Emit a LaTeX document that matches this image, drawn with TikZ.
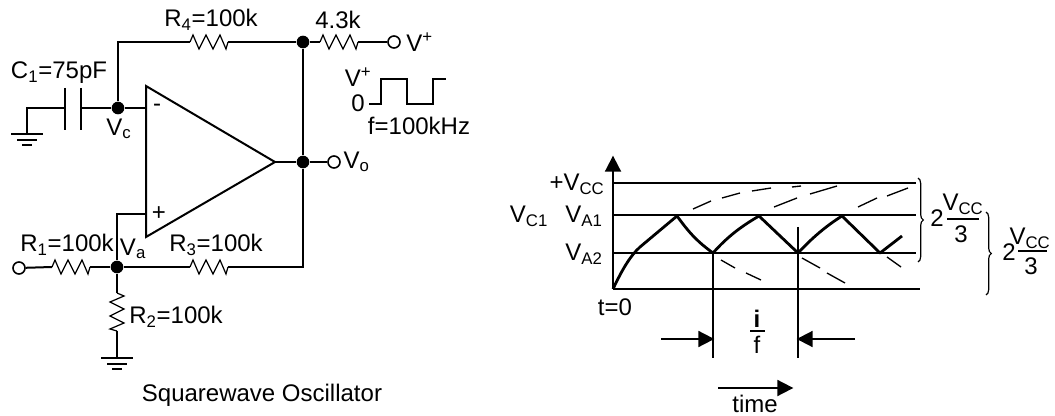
\documentclass[tikz,border=0pt]{standalone}
\usepackage{fontspec}
\setmainfont{Liberation Sans}
\usetikzlibrary{arrows.meta,decorations.pathreplacing,positioning}
\tikzset{%
  wire/.style={line width=1.5pt},
  thinwire/.style={line width=0.9pt},
  trace/.style={line width=2.1pt,line join=round},
  ghost/.style={line width=1pt},
  level/.style={line width=1.4pt},
  arrow/.style={line width=1.4pt,-{Triangle[length=12pt,width=12pt]},shorten >=-1pt},
  junction/.style={circle,fill=black,inner sep=0pt,minimum size=9.5pt},
  terminal/.style={circle,draw=black,line width=1.2pt,fill=white,inner sep=0pt,minimum size=9pt},
  txt/.style={inner sep=0pt,font=\fontsize{18}{20}\selectfont},
  resistor/.pic={
    \draw[thinwire,line join=miter] (0,0) -- (3,-7) -- (9,7) -- (16,-7) -- (23,7) -- (30,-7) -- (36,7) -- (38,0);
  },
  ground/.pic={
    \draw[wire] (-16,0) -- (16,0) (-10,6) -- (10,6) (-5,11) -- (5,11);
  },
}
\begin{document}
\begin{tikzpicture}[x=0.75pt,y=-0.75pt]
  \useasboundingbox (0,0) rectangle (1055,416);

  % oscillator
  \node[junction] (vc) at (118,108) {};
  \node[junction] (va) at (117,267) {};
  \node[junction] (top) at (303,42) {};
  \node[junction] (out) at (303,162) {};
  \node[terminal] (vplus) at (394,42) {};
  \node[terminal] (vout) at (334,162) {};
  \node[terminal] (vin) at (19,268) {};
  \coordinate (tipA) at (146,86);
  \coordinate (tipB) at (275,162);
  \coordinate (tipC) at (146,237);
  \coordinate (minus) at (146,108);
  \coordinate (plus) at (146,214);
  \coordinate (plusup) at (117,214);
  \coordinate (r4a) at (190,42);
  \coordinate (r4b) at (228,42);
  \coordinate (r5a) at (320,42);
  \coordinate (r5b) at (358,42);
  \coordinate (r1a) at (52,267);
  \coordinate (r1b) at (90,267);
  \coordinate (r3a) at (190,267);
  \coordinate (r3b) at (228,267);
  \coordinate (r2a) at (117,293);
  \coordinate (r2b) at (117,331);
  \coordinate (corner) at (303,267);
  \coordinate (rise) at (118,42);
  \coordinate (capa) at (65,108);
  \coordinate (capb) at (81,108);
  \coordinate (gnda) at (27,134);
  \coordinate (gndb) at (117,358);

  \draw[wire] (tipA) -- (tipB) -- (tipC) -- cycle;
  \draw[wire] (vc) -- (rise) -- (r4a);
  \draw[wire] (r4b) -- (top) -- (r5a);
  \draw[wire] (r5b) -- (vplus);
  \draw[wire] (top) -- (out) -- (corner) -- (r3b);
  \draw[wire] (tipB) -- (out) -- (vout);
  \draw[wire] (r3a) -- (va) -- (r1b);
  \draw[wire] (r1a) -- (vin);
  \draw[wire] (plus) -- (plusup) -- (va) -- (r2a);
  \draw[wire] (r2b) -- (gndb);
  \draw[wire] (minus) -- (vc) -- (capb);
  \draw[wire] (capa) -| (gnda);
  \draw[wire] (65,88) -- (65,130) (81,88) -- (81,130);
  \pic at (r4a) {resistor};
  \pic at (r5a) {resistor};
  \pic at (r1a) {resistor};
  \pic at (r3a) {resistor};
  \pic[rotate=-90] at (r2a) {resistor};
  \pic at (gnda) {ground};
  \pic at (gndb) {ground};
  \draw[wire] (369,104) -- (381,104) -- (381,79) -- (407,79) -- (407,104) -- (433,104) -- (433,79) -- (446,79);

  \node[txt] (r4lbl) at (211,20) {R\textsubscript{4}=100k};
  \node[txt] (r5lbl) at (338,20) {4.3k};
  \node[txt,right=4pt of vplus] (vplbl) {V\textsuperscript{+}};
  \node[txt,right=2pt of vout] (volbl) {V\textsubscript{o}};
  \node[txt] (c1lbl) at (59,73) {C\textsubscript{1}=75pF};
  \node[txt] (vclbl) at (119,129) {V\textsubscript{c}};
  \node[txt] (valbl) at (133,249) {V\textsubscript{a}};
  \node[txt] (r1lbl) at (67,245) {R\textsubscript{1}=100k};
  \node[txt] (r3lbl) at (216,245) {R\textsubscript{3}=100k};
  \node[txt] (r2lbl) at (176,317) {R\textsubscript{2}=100k};
  \node[txt] (minuslbl) at (157,108) {-};
  \node[txt] (pluslbl) at (159,214) {+};
  \node[txt] (vwave) at (358,77) {V\textsuperscript{+}};
  \node[txt] (zero) at (358,103) {0};
  \node[txt] (freq) at (419,126) {f=100kHz};
  \node[txt] (title) at (262,395) {Squarewave Oscillator};

  % timing
  \coordinate (origin) at (613,289);
  \coordinate (axistop) at (613,157);
  \coordinate (endbase) at (920,289);
  \coordinate (cc) at (613,183);
  \coordinate (endcc) at (916,183);
  \coordinate (aone) at (613,215);
  \coordinate (endone) at (916,215);
  \coordinate (atwo) at (613,253);
  \coordinate (endtwo) at (916,253);
  \coordinate (lowa) at (713,253);
  \coordinate (lowb) at (798,253);
  \coordinate (downa) at (713,358);
  \coordinate (downb) at (798,358);
  \coordinate (upb) at (798,227);

  \draw[arrow] (origin) -- (axistop);
  \draw[level] (origin) -- (endbase);
  \draw[level] (cc) -- (endcc);
  \draw[thinwire,line width=1.2pt] (aone) -- (endone);
  \draw[thinwire,line width=1.2pt] (atwo) -- (endtwo);
  \draw[level] (lowa) -- (downa);
  \draw[level] (upb) -- (downb);
  \draw[trace] (origin) .. controls (622,270) and (630,256) .. (640,247)
    -- (677,216) .. controls (690,234) and (698,242) .. (713,253)
    .. controls (728,236) and (742,226) .. (759,216) -- (798,253)
    .. controls (812,238) and (826,226) .. (842,216) -- (880,253) -- (902,236);
  \foreach \xa/\ya/\xb/\yb in {693/209/711/201,722/198/740/193,752/191/771/188,792/187/801/186,774/207/797/198,810/194/837/186,858/207/877/198,887/196/908/188,721/260/735/268,746/273/761/280,802/258/820/268,827/273/845/283,887/257/901/267}
    \draw[ghost] (\xa,\ya) -- (\xb,\yb);

  \coordinate (fromleft) at (661,339);
  \coordinate (fromright) at (855,339);
  \coordinate (timea) at (718,388);
  \coordinate (timeb) at (792,388);
  \draw[arrow] (fromleft) -- (lowa |- fromleft);
  \draw[arrow] (fromright) -- (lowb |- fromright);
  \draw[arrow] (timea) -- (timeb);

  \node[txt] (vcclbl) at (577,184) {+V\textsubscript{CC}};
  \node[txt] (a1lbl) at (584,216) {V\textsubscript{A1}};
  \node[txt] (a2lbl) at (584,254) {V\textsubscript{A2}};
  \node[txt] (c1volt) at (529,216) {V\textsubscript{C1}};
  \node[txt] (tzero) at (615,307) {t=0};
  \node[txt] (timelbl) at (755,404) {time};

  \node[txt,font=\fontsize{18}{20}\bfseries] (pi) at (757,319) {i};
  \node[txt] (pf) at (757,345) {f};
  \draw[level] (750,331) -- (765,331);

  \coordinate (bra) at (918,178);
  \coordinate (brb) at (918,262);
  \coordinate (brc) at (986,212);
  \coordinate (brd) at (986,295);
  \draw[thinwire,decorate,decoration={brace,amplitude=4pt}] (bra) -- (brb);
  \draw[thinwire,decorate,decoration={brace,amplitude=4pt}] (brc) -- (brd);

  \node[txt] (twoa) at (937,218) {2};
  \node[txt] (vcca) at (963,204) {V\textsubscript{CC}};
  \node[txt] (threea) at (961,234) {3};
  \draw[wire,line width=1.1pt] (947,219) -- (979,219);
  \node[txt] (twob) at (1009,252) {2};
  \node[txt] (vccb) at (1030,238) {V\textsubscript{CC}};
  \node[txt] (threeb) at (1031,266) {3};
  \draw[wire,line width=1.1pt] (1018,251) -- (1047,251);
\end{tikzpicture}
\end{document}
